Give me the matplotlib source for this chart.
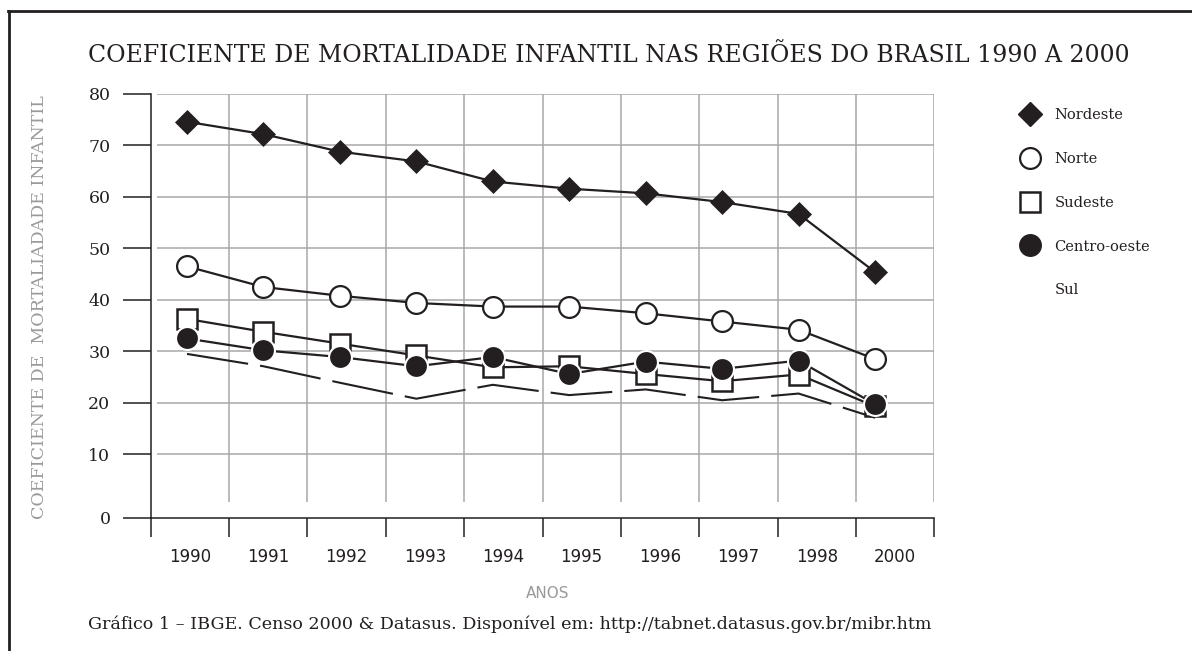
import numpy as np
import matplotlib
matplotlib.use("Agg")
import matplotlib.pyplot as plt
from matplotlib.lines import Line2D

# ---------------- data ----------------
years = ["1990", "1991", "1992", "1993", "1994", "1995", "1996", "1997", "1998", "2000"]
nordeste = [74.6, 72.2, 68.8, 66.9, 63.0, 61.6, 60.7, 59.0, 56.7, 45.4]
norte = [46.5, 42.5, 40.8, 39.4, 38.7, 38.7, 37.4, 35.8, 34.2, 28.5]
sudeste = [36.3, 33.8, 31.5, 29.2, 26.9, 27.1, 25.6, 24.2, 25.5, 19.3]
centro_oeste = [32.5, 30.2, 28.9, 27.1, 28.9, 25.6, 28.0, 26.6, 28.2, 19.7]
sul = [29.5, 27.1, 23.9, 20.8, 23.5, 21.5, 22.6, 20.5, 21.8, 17.1]
y_ticks = [0, 10, 20, 30, 40, 50, 60, 70, 80]

title = "COEFICIENTE DE MORTALIDADE INFANTIL NAS REGIÕES DO BRASIL 1990 A 2000"
ylabel = "COEFICIENTE DE  MORTALIADADE INFANTIL"
xlabel = "ANOS"
caption = ("Gráfico 1 – IBGE. Censo 2000 & Datasus. Disponível em: "
           "http://tabnet.datasus.gov.br/mibr.htm")

# ---------------- style ----------------
INK = "#231f20"
GRID = "#a8a8a8"
GRAYTXT = "#9a9a9a"
SERIF = "DejaVu Serif"
SANS = "DejaVu Sans"

W, H = 1192, 651
fig = plt.figure(figsize=(W / 100, H / 100), dpi=100)
fig.patch.set_facecolor("white")

# axes placement (pixel based)
x0, x1 = 150.7, 934.3
y_top, y_bot = 94.0, 517.7
ax = fig.add_axes([x0 / W, 1 - y_bot / H, (x1 - x0) / W, (y_bot - y_top) / H])

# y scale: the band between 0 and 10 is drawn a little taller than the others
K = 1.232


def fwd(y):
    y = np.asarray(y, dtype=float)
    return np.where(y >= 10, y, 10 - (10 - y) * K)


def inv(v):
    v = np.asarray(v, dtype=float)
    return np.where(v >= 10, v, 10 - (10 - v) / K)


ax.set_yscale("function", functions=(fwd, inv))
ax.set_ylim(0, 80)

n = len(years)
ax.set_xlim(-0.5, n - 0.5)

# grid lines
y_grid_start = -0.5 + (157 - x0) / ((x1 - x0) / n)
ax.hlines(y_ticks[1:], y_grid_start, n - 0.5, colors=GRID, linewidth=1.1, zorder=1)
ax.vlines(np.arange(n) + 0.5, 2.4, 80, colors=GRID, linewidth=1.1, zorder=1)

# spines
for s in ["top", "right"]:
    ax.spines[s].set_visible(False)
for s in ["left", "bottom"]:
    ax.spines[s].set_color(INK)
    ax.spines[s].set_linewidth(1.1)

# y ticks
ax.set_yticks(y_ticks)
ax.set_yticklabels([str(t) for t in y_ticks], fontfamily=SERIF, fontsize=12.5, color=INK)
ax.tick_params(axis="y", direction="out", length=20, width=1.1, color=INK, pad=9)

# x ticks: labels at category centres, tick marks at band edges
ax.set_xticks(np.arange(n))
ax.set_xticklabels(years, fontfamily=SANS, fontsize=12, color=INK)
ax.tick_params(axis="x", which="major", length=0, pad=22)
ax.set_xticks(np.arange(n + 1) - 0.5, minor=True)
ax.tick_params(axis="x", which="minor", direction="out", length=13.5, width=1.1, color=INK)

# data axis (points sit on their own evenly spaced scale inside the bands)
dax = ax.twiny()
dax.set_yscale("function", functions=(fwd, inv))
dax.set_ylim(0, 80)
dax.set_xlim(-0.475, 9.775)
dax.axis("off")
xs = np.arange(n)

dax.plot(xs, sul, color=INK, linewidth=1.5, dashes=(29.7, 5.8), zorder=2,
         solid_capstyle="butt", dash_capstyle="butt")
dax.plot(xs, sudeste, color=INK, linewidth=1.6, marker="s", markersize=14.5,
         markerfacecolor="white", markeredgecolor=INK, markeredgewidth=1.8, zorder=3)
dax.plot(xs, centro_oeste, color=INK, linewidth=1.6, zorder=4)
dax.plot(xs, centro_oeste, linestyle="none", marker="o", markersize=16.5,
         markerfacecolor=INK, markeredgecolor="white", markeredgewidth=1.5, zorder=5)
dax.plot(xs, norte, color=INK, linewidth=1.6, marker="o", markersize=15,
         markerfacecolor="white", markeredgecolor=INK, markeredgewidth=1.6, zorder=6)
dax.plot(xs, nordeste, color=INK, linewidth=1.6, marker="D", markersize=12,
         markerfacecolor=INK, markeredgecolor=INK, markeredgewidth=0.5, zorder=7)

# legend
handles = [
    Line2D([], [], linestyle="none", marker="D", markersize=12,
           markerfacecolor=INK, markeredgecolor=INK),
    Line2D([], [], linestyle="none", marker="o", markersize=15,
           markerfacecolor="white", markeredgecolor=INK, markeredgewidth=1.6),
    Line2D([], [], linestyle="none", marker="s", markersize=14.5,
           markerfacecolor="white", markeredgecolor=INK, markeredgewidth=1.8),
    Line2D([], [], linestyle="none", marker="o", markersize=15.5,
           markerfacecolor=INK, markeredgecolor=INK),
    Line2D([], [], linestyle="none", marker=None),
]
labels = ["Nordeste", "Norte", "Sudeste", "Centro-oeste", "Sul"]
leg = fig.legend(handles, labels, loc="upper left",
                 bbox_to_anchor=(1012 / W, 1 - 102 / H),
                 frameon=False, handlelength=1.6, handletextpad=0.9,
                 labelspacing=2.05, borderaxespad=0,
                 prop={"family": SERIF, "size": 10.5})
for t in leg.get_texts():
    t.set_color(INK)

# texts
fig.text(88 / W, 1 - 56 / H, title, fontfamily=SERIF, fontsize=17.05, color=INK,
         ha="left", va="center")
fig.text(40 / W, 1 - 307 / H, ylabel, fontfamily=SERIF, fontsize=12.5, color=GRAYTXT,
         rotation=90, ha="center", va="center")
fig.text(548 / W, 1 - 594 / H, xlabel, fontfamily=SANS, fontsize=11, color=GRAYTXT,
         ha="center", va="center")
fig.text(88 / W, 1 - 624 / H, caption, fontfamily=SERIF, fontsize=12.6, color=INK,
         ha="left", va="center")

# outer frame (top and left edges)
fig.add_artist(Line2D([9 / W, 9 / W], [0, 1 - 11 / H], color=INK, linewidth=2.0,
                      transform=fig.transFigure))
fig.add_artist(Line2D([8 / W, 1], [1 - 11 / H, 1 - 11 / H], color=INK, linewidth=2.0,
                      transform=fig.transFigure))

fig.savefig("out.png", dpi=100)
